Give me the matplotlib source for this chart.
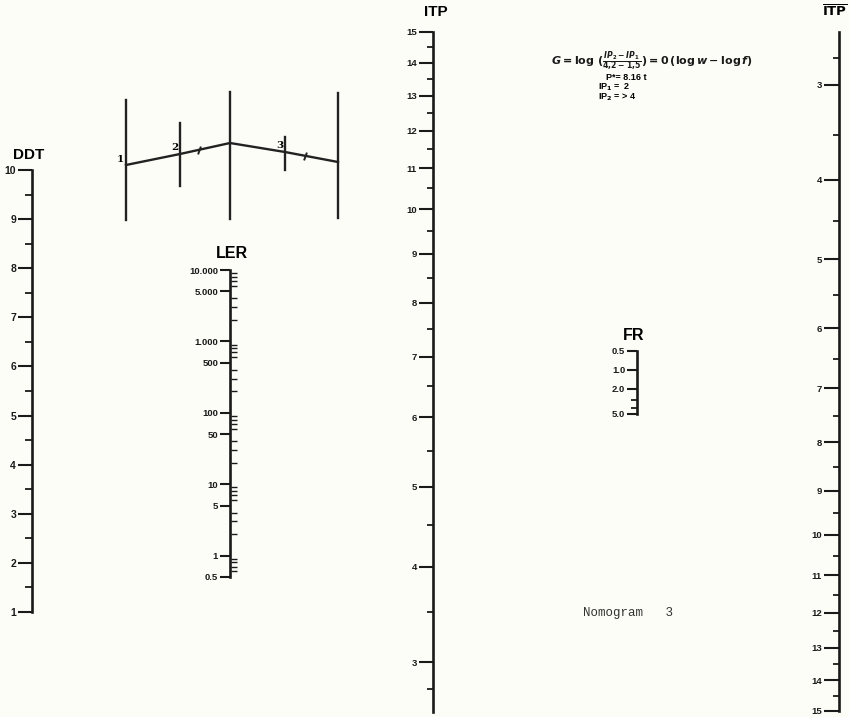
import matplotlib
matplotlib.use('Agg')
import matplotlib.pyplot as plt
import numpy as np
from matplotlib.ticker import FixedLocator, FixedFormatter, NullFormatter, LogLocator

plt.rcParams['font.family'] = ['Liberation Sans', 'DejaVu Sans']
plt.rcParams['font.weight'] = 'bold'

# ---------------- data ----------------
ddt_ticks = [1, 2, 3, 4, 5, 6, 7, 8, 9, 10]
ddt_labels = ['1', '2', '3', '4', '5', '6', '7', '8', '9', '10']
ddt_minor = [1.5, 2.5, 3.5, 4.5, 5.5, 6.5, 7.5, 8.5, 9.5]

ler_ticks = [0.5, 1, 5, 10, 50, 100, 500, 1000, 5000, 10000]
ler_labels = ['0.5', '1', '5', '10', '50', '100', '500', '1.000', '5.000', '10.000']

itp_ticks = [3, 4, 5, 6, 7, 8, 9, 10, 11, 12, 13, 14, 15]
itp_labels = ['3', '4', '5', '6', '7', '8', '9', '10', '11', '12', '13', '14', '15']
itp_minor = [2.75, 3.5, 4.5, 5.5, 6.5, 7.5, 8.5, 9.5, 10.5, 11.5, 12.5, 13.5, 14.5]

fr_ticks = [0.5, 1.0, 2.0, 5.0]
fr_labels = ['0.5', '1.0', '2.0', '5.0']
fr_minor = [3.0, 4.0]

# schematic diagram (top left)
diag_x = [126, 180, 230, 285, 338]
diag_path_y = [165, 154, 143, 152, 162]
diag_bar_top = [100, 123, 92, 137, 93]
diag_bar_bot = [220, 186, 219, 170, 218]
diag_labels = ['1', '2', '', '3', '']

# ---------------- figure ----------------
W, H = 849, 717
bg = '#fdfdf8'
fig = plt.figure(figsize=(W / 100, H / 100), dpi=100, facecolor=bg)


def itp_fwd(v):
    return np.log10(np.clip(v, -1.7, None) + 1.75)


def itp_inv(v):
    return 10 ** v - 1.75


def make_axis(x_px, y_top_px, y_bot_px, lim_bot, lim_top, scale, major, labels,
              minor=None, minor_right=False, maj_len=8, min_len=4, fs=6.5):
    ax = fig.add_axes([x_px / W, 1 - y_bot_px / H, 0.5 / W, (y_bot_px - y_top_px) / H])
    ax.set_facecolor('none')
    for s in ['top', 'right', 'bottom']:
        ax.spines[s].set_visible(False)
    ax.spines['left'].set_linewidth(1.9)
    ax.spines['left'].set_color('#1a1a1a')
    ax.set_xticks([])
    if scale == 'log':
        ax.set_yscale('log')
    elif scale == 'itp':
        ax.set_yscale('function', functions=(itp_fwd, itp_inv))
    ax.set_ylim(lim_bot, lim_top)
    ax.yaxis.set_major_locator(FixedLocator(major))
    ax.yaxis.set_major_formatter(FixedFormatter(labels))
    if minor == 'log':
        ax.yaxis.set_minor_locator(LogLocator(base=10, subs=range(2, 10), numticks=20))
    elif minor is not None:
        ax.yaxis.set_minor_locator(FixedLocator(minor))
    else:
        ax.yaxis.set_minor_locator(FixedLocator([]))
    ax.yaxis.set_minor_formatter(NullFormatter())
    ax.tick_params(axis='y', which='major', direction='out', length=maj_len, width=1.5,
                   color='#1a1a1a', labelsize=fs, pad=1.5, labelcolor='#1a1a1a')
    if minor_right:
        ax.tick_params(axis='y', which='minor', left=False, right=True, direction='out',
                       length=min_len, width=1.0, color='#1a1a1a')
    else:
        ax.tick_params(axis='y', which='minor', direction='out', length=min_len, width=1.3,
                       color='#1a1a1a')
    return ax


# DDT axis
make_axis(32, 170, 612, 1, 10, 'linear', ddt_ticks, ddt_labels, ddt_minor, maj_len=10, min_len=5, fs=7.5)
fig.text(29 / W, 1 - 155 / H, 'DDT', ha='center', va='center', fontsize=11, fontweight='bold')

# LER axis
make_axis(230, 270, 577, 0.5, 10000, 'log', ler_ticks, ler_labels, 'log', minor_right=True,
          maj_len=7, min_len=4, fs=6.8)
fig.text(232 / W, 1 - 253 / H, 'LER', ha='center', va='center', fontsize=11.5, fontweight='bold')

# centre ITP axis
make_axis(433, 32, 712, 2.55, 15, 'itp', itp_ticks, itp_labels, itp_minor, maj_len=10, min_len=4, fs=6.8)
fig.text(436 / W, 1 - 12 / H, 'ITP', ha='center', va='center', fontsize=11, fontweight='bold')

# FR axis
make_axis(637, 351, 414, 5.0, 0.5, 'log', fr_ticks, fr_labels, fr_minor, maj_len=7, min_len=4, fs=6.8)
fig.text(634 / W, 1 - 336 / H, 'FR', ha='center', va='center', fontsize=11.5, fontweight='bold')

# right ITP axis (reversed)
make_axis(839, 32, 711, 15, 2.52, 'itp', itp_ticks, itp_labels, itp_minor, maj_len=11, min_len=4, fs=6.8)
fig.text(822 / W, 1 - 12 / H, r'$\overline{\mathbf{ITP}}$', ha='left', va='center', fontsize=9.5)

# formula block
fig.text(652 / W, 1 - 61 / H,
         r'$G = \log\,(\frac{IP_2 - IP_1}{4{,}2 - 1{,}5}) = 0\,(\log w - \log f)$',
         ha='center', va='center', fontsize=8, color='#1a1a1a')
fig.text(606 / W, 1 - 78 / H, 'P*= 8.16 t', ha='left', va='center', fontsize=6.5, fontweight='bold')
fig.text(598 / W, 1 - 87 / H, r'IP$_1$ =  2', ha='left', va='center', fontsize=6.5, fontweight='bold')
fig.text(598 / W, 1 - 97 / H, r'IP$_2$ = > 4', ha='left', va='center', fontsize=6.5, fontweight='bold')

# Nomogram caption
fig.text(583 / W, 1 - 613 / H, 'Nomogram   3', ha='left', va='center', fontsize=9,
         family='Liberation Mono', fontweight='normal', color='#333333')

# schematic diagram
dax = fig.add_axes([100 / W, 1 - 230 / H, 260 / W, 150 / H])
dax.set_xlim(100, 360)
dax.set_ylim(230, 80)
dax.axis('off')
for xv, t, b in zip(diag_x, diag_bar_top, diag_bar_bot):
    dax.plot([xv, xv], [t, b], color='#222222', lw=1.7)
dax.plot(diag_x, diag_path_y, color='#222222', lw=1.7)
for xv, yv, lab in zip(diag_x, diag_path_y, diag_labels):
    if lab:
        dax.text(xv - 2, yv - 6, lab, ha='right', va='center', fontsize=7.5, family='DejaVu Serif',
                 fontweight='bold')
# direction marks at segment midpoints
for i in (1, 3):
    mx = diag_x[i] + 0.38 * (diag_x[i + 1] - diag_x[i])
    my = diag_path_y[i] + 0.38 * (diag_path_y[i + 1] - diag_path_y[i])
    dax.plot([mx], [my], marker=(2, 0, -20), markersize=6, color='#222222', mew=1.4)

fig.savefig('out.png', dpi=100, facecolor=bg)
